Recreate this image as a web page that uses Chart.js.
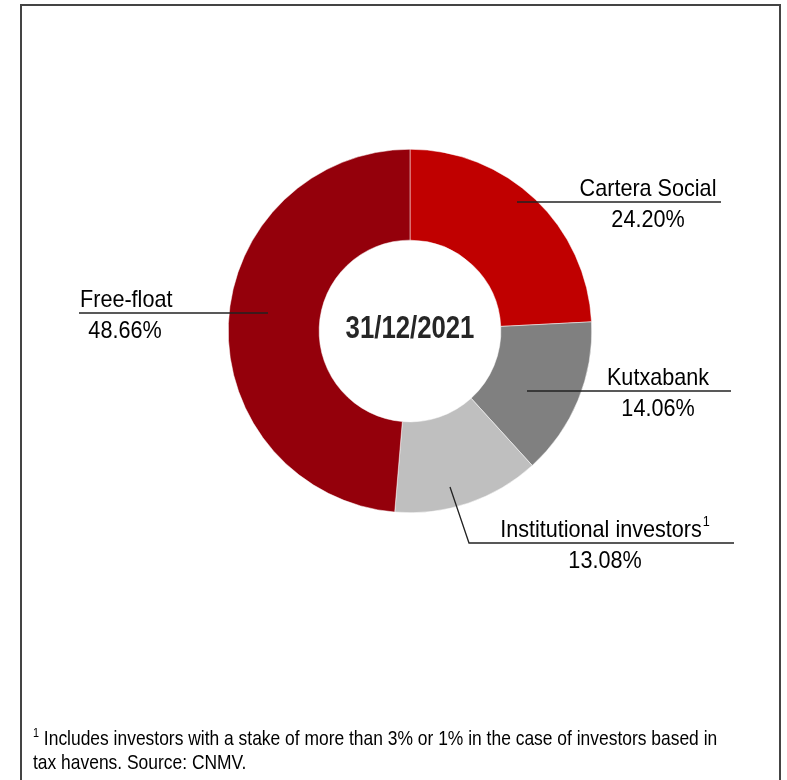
<!DOCTYPE html>
<html lang="en">
<head>
    <meta charset="UTF-8">
    <title>Shareholder structure 31/12/2021</title>
    <style>
        body {
            margin: 0;
            background: white;
            font-family: 'Liberation Sans', Arial, sans-serif;
        }
        .frame {
            position: absolute;
            left: 20px;
            top: 4px;
            width: 757px;
            height: 800px;
            border: 2px solid #444;
        }
        canvas {
            position: absolute;
            left: 0;
            top: 0;
        }
        .note {
            position: absolute;
            left: 33px;
            top: 726px;
            width: 830px;
            font-size: 21px;
            line-height: 24px;
            color: #000;
            transform: scaleX(0.83);
            transform-origin: 0 0;
        }
        .note sup {
            font-size: 13px;
            vertical-align: 8px;
            line-height: 0;
        }
    </style>
</head>
<body>
    <div class="frame"></div>
    <div style="position:absolute;left:0;top:0;width:787px;height:780px;">
        <canvas id="shareChart" width="787" height="780"></canvas>
    </div>
    <div class="note"><sup>1</sup> Includes investors with a stake of more than 3% or 1% in the case of investors based in tax havens. Source: CNMV.</div>

    <script src="https://cdn.jsdelivr.net/npm/chart.js"></script>
    <script>
        const labels = ['Cartera Social', 'Kutxabank', 'Institutional investors', 'Free-float'];
        const shares = [24.20, 14.06, 13.08, 48.66];
        const shareText = ['24.20%', '14.06%', '13.08%', '48.66%'];
        const footMarks = ['', '', '1', ''];
        const colors = ['#c00000', '#808080', '#bfbfbf', '#94000b'];
        const centerText = '31/12/2021';

        // where each callout sits (pixels on the canvas)
        const callouts = [
            { x1: 517, x2: 721, y: 202, tx: 648 },
            { x1: 527, x2: 731, y: 391, tx: 658 },
            { x1: 469, x2: 734, y: 543, tx: 605, from: [450, 487] },
            { x1: 79, x2: 268, y: 313, tx: 80, left: true, px: 125 }
        ];

        const FONT = "'Liberation Sans', Arial, sans-serif";
        const SQUEEZE = 0.9; // the original uses a narrow face

        // draws text squeezed horizontally, returns its drawn width
        function narrowText(ctx, text, x, y, align, sx) {
            const w = ctx.measureText(text).width * sx;
            let left = x;
            if (align === 'center') left = x - w / 2;
            if (align === 'right') left = x - w;
            ctx.save();
            ctx.translate(left, y);
            ctx.scale(sx, 1);
            ctx.textAlign = 'left';
            ctx.fillText(text, 0, 0);
            ctx.restore();
            return w;
        }

        const calloutPlugin = {
            id: 'callouts',
            afterDraw(chart) {
                const ctx = chart.ctx;
                const arc = chart.getDatasetMeta(0).data[0];
                ctx.save();
                ctx.textBaseline = 'alphabetic';

                // centre date
                ctx.fillStyle = '#262626';
                ctx.font = 'bold 31px ' + FONT;
                narrowText(ctx, centerText, arc.x, arc.y + 7, 'center', 0.83);

                ctx.strokeStyle = '#222';
                ctx.lineWidth = 1.3;
                ctx.fillStyle = '#000';
                labels.forEach(function (name, i) {
                    const c = callouts[i];
                    ctx.beginPath();
                    if (c.from) {
                        ctx.moveTo(c.from[0], c.from[1]);
                        ctx.lineTo(c.x1, c.y);
                    } else {
                        ctx.moveTo(c.x1, c.y);
                    }
                    ctx.lineTo(c.x2, c.y);
                    ctx.stroke();

                    ctx.font = '24px ' + FONT;
                    if (c.left) {
                        narrowText(ctx, name, c.tx, c.y - 6, 'left', SQUEEZE);
                        narrowText(ctx, shareText[i], c.px, c.y + 25, 'center', SQUEEZE);
                    } else {
                        const w = ctx.measureText(name).width * SQUEEZE;
                        ctx.font = '14px ' + FONT;
                        const sw = footMarks[i] ? ctx.measureText(footMarks[i]).width * SQUEEZE + 1 : 0;
                        const start = c.tx - (w + sw) / 2;
                        ctx.font = '24px ' + FONT;
                        narrowText(ctx, name, start, c.y - 6, 'left', SQUEEZE);
                        if (footMarks[i]) {
                            ctx.font = '14px ' + FONT;
                            narrowText(ctx, footMarks[i], start + w + 1, c.y - 17, 'left', SQUEEZE);
                            ctx.font = '24px ' + FONT;
                        }
                        narrowText(ctx, shareText[i], c.tx, c.y + 25, 'center', SQUEEZE);
                    }
                });
                ctx.restore();
            }
        };

        new Chart(document.getElementById('shareChart'), {
            type: 'doughnut',
            data: {
                labels: labels,
                datasets: [{
                    data: shares,
                    backgroundColor: colors,
                    borderColor: '#ffffff',
                    borderWidth: 0.5
                }]
            },
            options: {
                responsive: false,
                animation: false,
                cutout: '50%',
                layout: {
                    padding: { left: 228, right: 195, top: 149, bottom: 267 }
                },
                plugins: {
                    legend: { display: false },
                    tooltip: { enabled: false }
                }
            },
            plugins: [calloutPlugin]
        });
    </script>
</body>
</html>
